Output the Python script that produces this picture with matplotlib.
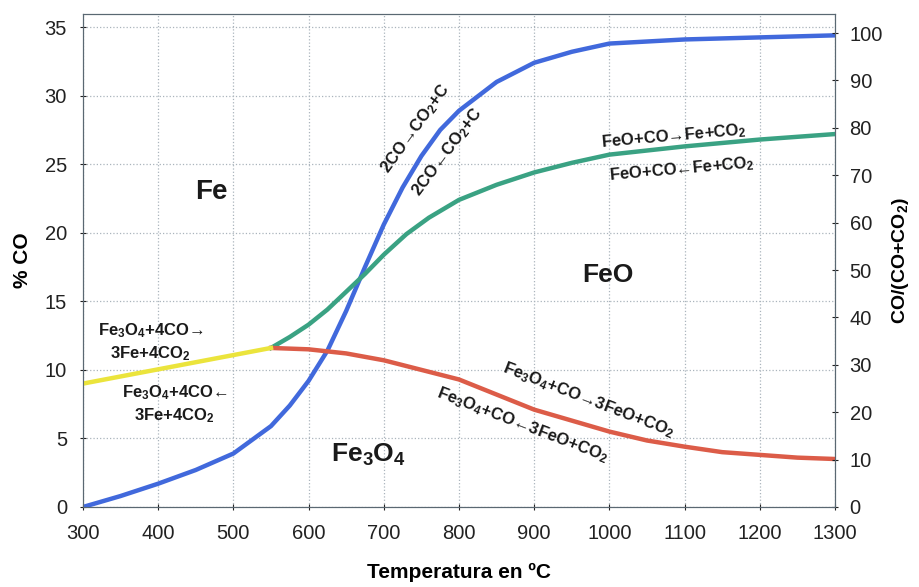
import matplotlib.pyplot as plt

plt.rcParams['font.family'] = ['Liberation Sans', 'DejaVu Sans']
plt.rcParams['mathtext.fontset'] = 'custom'
plt.rcParams['mathtext.rm'] = 'Liberation Sans'
plt.rcParams['mathtext.bf'] = 'Liberation Sans:bold'
plt.rcParams['mathtext.default'] = 'bf'

# temperatures (ºC) and % CO
temp_blue = [300, 350, 400, 450, 500, 550, 575, 600, 625, 650, 675, 700, 725, 750, 775, 800,
             850, 900, 950, 1000, 1100, 1200, 1300]
co_blue = [0.0, 0.8, 1.7, 2.7, 3.9, 5.9, 7.4, 9.2, 11.4, 14.3, 17.5, 20.6, 23.3, 25.6, 27.5, 28.9,
           31.0, 32.4, 33.2, 33.8, 34.1, 34.25, 34.4]

temp_yellow = [300, 550]
co_yellow = [9.0, 11.6]

temp_green = [550, 575, 600, 625, 650, 675, 700, 730, 760, 800, 850, 900, 950, 1000, 1100, 1200, 1300]
co_green = [11.6, 12.4, 13.3, 14.4, 15.7, 17.0, 18.4, 19.9, 21.1, 22.4, 23.5, 24.4, 25.1, 25.7, 26.3,
            26.8, 27.2]

temp_red = [550, 600, 650, 700, 750, 800, 850, 900, 950, 1000, 1050, 1100, 1150, 1200, 1250, 1300]
co_red = [11.6, 11.5, 11.2, 10.7, 10.0, 9.3, 8.2, 7.1, 6.3, 5.5, 4.85, 4.4, 4.0, 3.8, 3.6, 3.5]

fig = plt.figure(figsize=(9.19, 5.87), dpi=100)
ax = fig.add_axes([0.0903, 0.1363, 0.8183, 0.8397])

ax.plot(temp_blue, co_blue, color='#4169dc', lw=3.2, solid_capstyle='round', zorder=3)
ax.plot(temp_green, co_green, color='#3aa283', lw=3.2, zorder=3)
ax.plot(temp_red, co_red, color='#dc5c48', lw=3.2, zorder=3)
ax.plot(temp_yellow, co_yellow, color='#ebe43c', lw=3.2, zorder=3)

ax.set_xlim(300, 1300)
ax.set_ylim(0, 35.95)
ax.set_xticks(range(300, 1301, 100))
ax.set_yticks(range(0, 36, 5))
ax.grid(True, color='#aab4bc', linestyle=':', linewidth=0.9)
ax.tick_params(labelsize=14.5, colors='#222222', length=5, direction='inout')
ax.tick_params(axis='x', pad=10)
ax.tick_params(axis='y', pad=9)
for s in ax.spines.values():
    s.set_color('#5a6872')

ax.set_xlabel('Temperatura en ºC', fontsize=15, fontweight='bold', labelpad=14)
ax.set_ylabel('% CO', fontsize=15, fontweight='bold', labelpad=9)

ax2 = ax.twinx()
ax2.set_ylim(0, 104)
ax2.set_yticks(range(0, 101, 10))
ax2.tick_params(labelsize=14.5, colors='#222222', length=5, direction='inout', pad=8)
for s in ax2.spines.values():
    s.set_color('#5a6872')
ax2.set_ylabel('CO/(CO+CO$_2$)', fontsize=14, fontweight='bold', labelpad=5)

bold = dict(fontweight='bold', color='#1a1a1a', ha='center', va='center')
ax.text(471, 23.0, 'Fe', fontsize=20, **bold)
ax.text(998, 16.9, 'FeO', fontsize=19, **bold)
ax.text(679, 3.8, 'Fe$_3$O$_4$', fontsize=19, **bold)

ax.text(390, 12.0, 'Fe$_3$O$_4$+4CO→\n3Fe+4CO$_2$', fontsize=12, linespacing=1.3, **bold)
ax.text(422, 7.5, 'Fe$_3$O$_4$+4CO←\n3Fe+4CO$_2$', fontsize=12, linespacing=1.3, **bold)
ax.text(742, 27.6, '2CO→CO$_2$+C', fontsize=12, rotation=54, **bold)
ax.text(784, 25.9, '2CO←CO$_2$+C', fontsize=12, rotation=53, **bold)
ax.text(1085, 27.0, 'FeO+CO→Fe+CO$_2$', fontsize=12, rotation=5, **bold)
ax.text(1096, 24.6, 'FeO+CO←Fe+CO$_2$', fontsize=12, rotation=5, **bold)
ax.text(972, 7.8, 'Fe$_3$O$_4$+CO→3FeO+CO$_2$', fontsize=12, rotation=-21, **bold)
ax.text(884, 6.0, 'Fe$_3$O$_4$+CO←3FeO+CO$_2$', fontsize=12, rotation=-21, **bold)

fig.savefig('out.png', dpi=100)
